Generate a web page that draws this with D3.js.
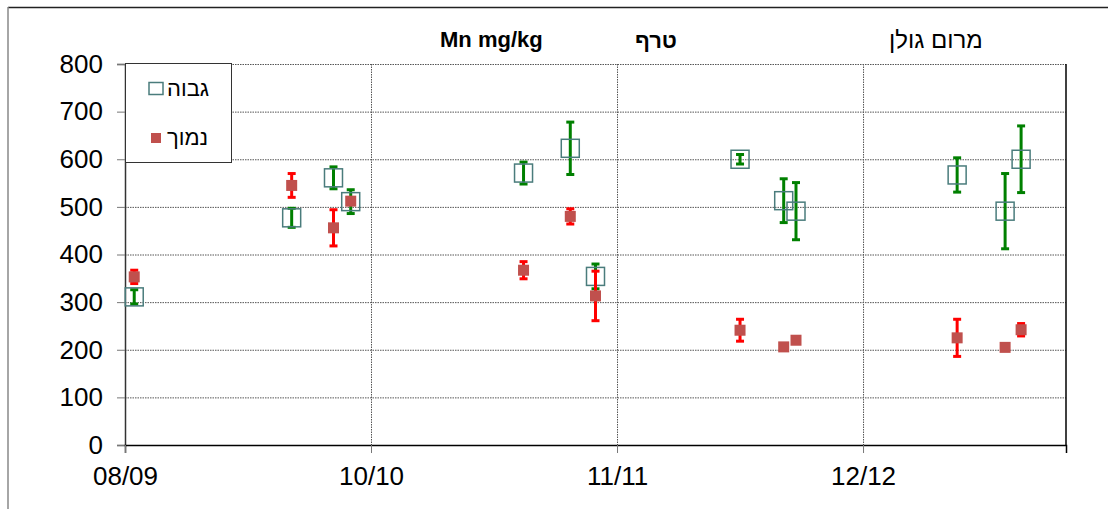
<!DOCTYPE html>
<html>
<head>
<meta charset="utf-8">
<script src="https://cdn.jsdelivr.net/npm/d3@7"></script>
<style>
  body { margin: 0; background: #fff; }
  svg { display: block; font-family: "Liberation Sans", Arial, sans-serif; }
</style>
</head>
<body>
<div id="chart"></div>
<script>
// sampling dates
const dates = ['2009-09-12', '2010-05-26', '2010-08-02', '2010-08-30',
  '2011-06-07', '2011-08-22', '2011-10-02',
  '2012-05-24', '2012-08-03', '2012-08-23',
  '2013-05-12', '2013-07-29', '2013-08-24'];

// גבוה (high)
const highMean = [311, 477, 561, 511, 571, 623, 354, 600, 513, 491, 567, 491, 600];
const highErr = [15, 20, 23, 25, 23, 55, 26, 10, 46, 60, 36, 79, 70];

// נמוך (low)
const lowMean = [353, 545, 456, 512, 367, 480, 313, 241, 206, 220, 225, 205, 242];
const lowErr = [14, 25, 38, 4, 18, 16, 52, 23, 0, 0, 39, 0, 13];

const xTickDates = ['2009-08-28', '2010-10-02', '2011-11-06', '2012-12-10'];
const xTickLabels = ['08/09', '10/10', '11/11', '12/12'];
const xDomain = ['2009-08-28', '2013-11-05'];
const yTicks = [0, 100, 200, 300, 400, 500, 600, 700, 800];
const seriesNames = ['גבוה', 'נמוך'];

const parse = d3.utcParse('%Y-%m-%d');

let width = 1108, height = 509;
let mLeft = 125, mRight = 1066, mTop = 64, mBottom = 445;

let svg = d3.select('#chart').append('svg')
  .attr('width', width)
  .attr('height', height);

// outer frame (only top and left edges show)
svg.append('line').attr('x1', 8).attr('x2', width).attr('y1', 7.5).attr('y2', 7.5)
  .attr('stroke', '#222').attr('stroke-width', 1.5);
svg.append('line').attr('x1', 8).attr('x2', 8).attr('y1', 7).attr('y2', height)
  .attr('stroke', '#888').attr('stroke-width', 1.5);

let x = d3.scaleUtc()
  .domain(xDomain.map(parse))
  .range([mLeft, mRight]);

let y = d3.scaleLinear()
  .domain([0, 800])
  .range([mBottom, mTop]);

// grid
let grid = svg.append('g').attr('stroke', '#555').attr('stroke-dasharray', '1.5,1');
grid.selectAll('.hg')
  .data(yTicks.filter(d => d > 0))
  .enter().append('line')
  .attr('x1', mLeft).attr('x2', mRight)
  .attr('y1', d => y(d) + 0.5).attr('y2', d => y(d) + 0.5);
grid.selectAll('.vg')
  .data(xTickDates.slice(1))
  .enter().append('line')
  .attr('x1', d => x(parse(d)) + 0.5).attr('x2', d => x(parse(d)) + 0.5)
  .attr('y1', mTop).attr('y2', mBottom);

// axes
let yAxis = svg.append('g')
  .attr('transform', `translate(${mLeft},0)`)
  .call(d3.axisLeft(y).tickValues(yTicks).tickSize(8).tickPadding(14));
yAxis.select('.domain').attr('stroke', '#333').attr('stroke-width', 1.5);
yAxis.selectAll('.tick line').attr('stroke', '#777');
yAxis.selectAll('text').attr('font-size', 26).attr('fill', '#000')
  .attr('font-family', '"Liberation Sans", Arial, sans-serif');

let xAxis = svg.append('g')
  .attr('transform', `translate(0,${mBottom})`)
  .call(d3.axisBottom(x)
    .tickValues(xTickDates.map(parse))
    .tickFormat((d, i) => xTickLabels[i])
    .tickSize(8).tickPadding(14));
xAxis.select('.domain').attr('stroke', '#000').attr('stroke-width', 1.5);
xAxis.selectAll('.tick line').attr('stroke', '#777');
xAxis.selectAll('text').attr('font-size', 26).attr('fill', '#000')
  .attr('font-family', '"Liberation Sans", Arial, sans-serif');

// right border
svg.append('line').attr('x1', mRight).attr('x2', mRight).attr('y1', mTop).attr('y2', mBottom + 0.75)
  .attr('stroke', '#000').attr('stroke-width', 1.5);

// error bars helper
const drawErr = (mean, err, color) => {
  let g = svg.append('g').attr('stroke', color).attr('stroke-width', 3);
  let rows = dates.map((d, i) => ({ d: parse(d), m: mean[i], e: err[i] })).filter(r => r.e > 0);
  g.selectAll('.v').data(rows).enter().append('line')
    .attr('x1', r => x(r.d)).attr('x2', r => x(r.d))
    .attr('y1', r => y(r.m + r.e)).attr('y2', r => y(r.m - r.e));
  g.selectAll('.ct').data(rows).enter().append('line')
    .attr('x1', r => x(r.d) - 4).attr('x2', r => x(r.d) + 4)
    .attr('y1', r => y(r.m + r.e)).attr('y2', r => y(r.m + r.e));
  g.selectAll('.cb').data(rows).enter().append('line')
    .attr('x1', r => x(r.d) - 4).attr('x2', r => x(r.d) + 4)
    .attr('y1', r => y(r.m - r.e)).attr('y2', r => y(r.m - r.e));
};

// high series
drawErr(highMean, highErr, '#008000');
svg.append('g').selectAll('rect')
  .data(dates)
  .enter().append('rect')
  .attr('x', (d, i) => x(parse(d)) - 9)
  .attr('y', (d, i) => y(highMean[i]) - 9)
  .attr('width', 18).attr('height', 18)
  .attr('fill', 'none')
  .attr('stroke', '#4a7c7c').attr('stroke-width', 1.5);

// low series
drawErr(lowMean, lowErr, '#ff0000');
svg.append('g').selectAll('rect')
  .data(dates)
  .enter().append('rect')
  .attr('x', (d, i) => x(parse(d)) - 5.5)
  .attr('y', (d, i) => y(lowMean[i]) - 5.5)
  .attr('width', 11).attr('height', 11)
  .attr('fill', '#c0504d');

// legend
let lg = svg.append('g');
lg.append('rect').attr('x', 125.5).attr('y', 63.5).attr('width', 106).attr('height', 99)
  .attr('fill', '#fff').attr('stroke', '#333').attr('stroke-width', 1);
lg.append('rect').attr('x', 149).attr('y', 82.5).attr('width', 14).attr('height', 12)
  .attr('fill', 'none').attr('stroke', '#4a7c7c').attr('stroke-width', 1.5);
lg.append('rect').attr('x', 151).attr('y', 133).attr('width', 10).attr('height', 10)
  .attr('fill', '#c0504d');
lg.selectAll('text')
  .data(seriesNames)
  .enter().append('text')
  .attr('x', 167)
  .attr('y', (d, i) => i === 0 ? 96 : 145)
  .attr('font-size', 22)
  .text(d => d);

// titles
svg.append('text').attr('x', 440).attr('y', 47).attr('font-size', 22)
  .attr('font-weight', 'bold').text('Mn mg/kg');
svg.append('text').attr('x', 635).attr('y', 48).attr('font-size', 22)
  .attr('font-weight', 'bold').text('טרף');
svg.append('text').attr('x', 889).attr('y', 48).attr('font-size', 24)
  .text('מרום גולן');
</script>
</body>
</html>
